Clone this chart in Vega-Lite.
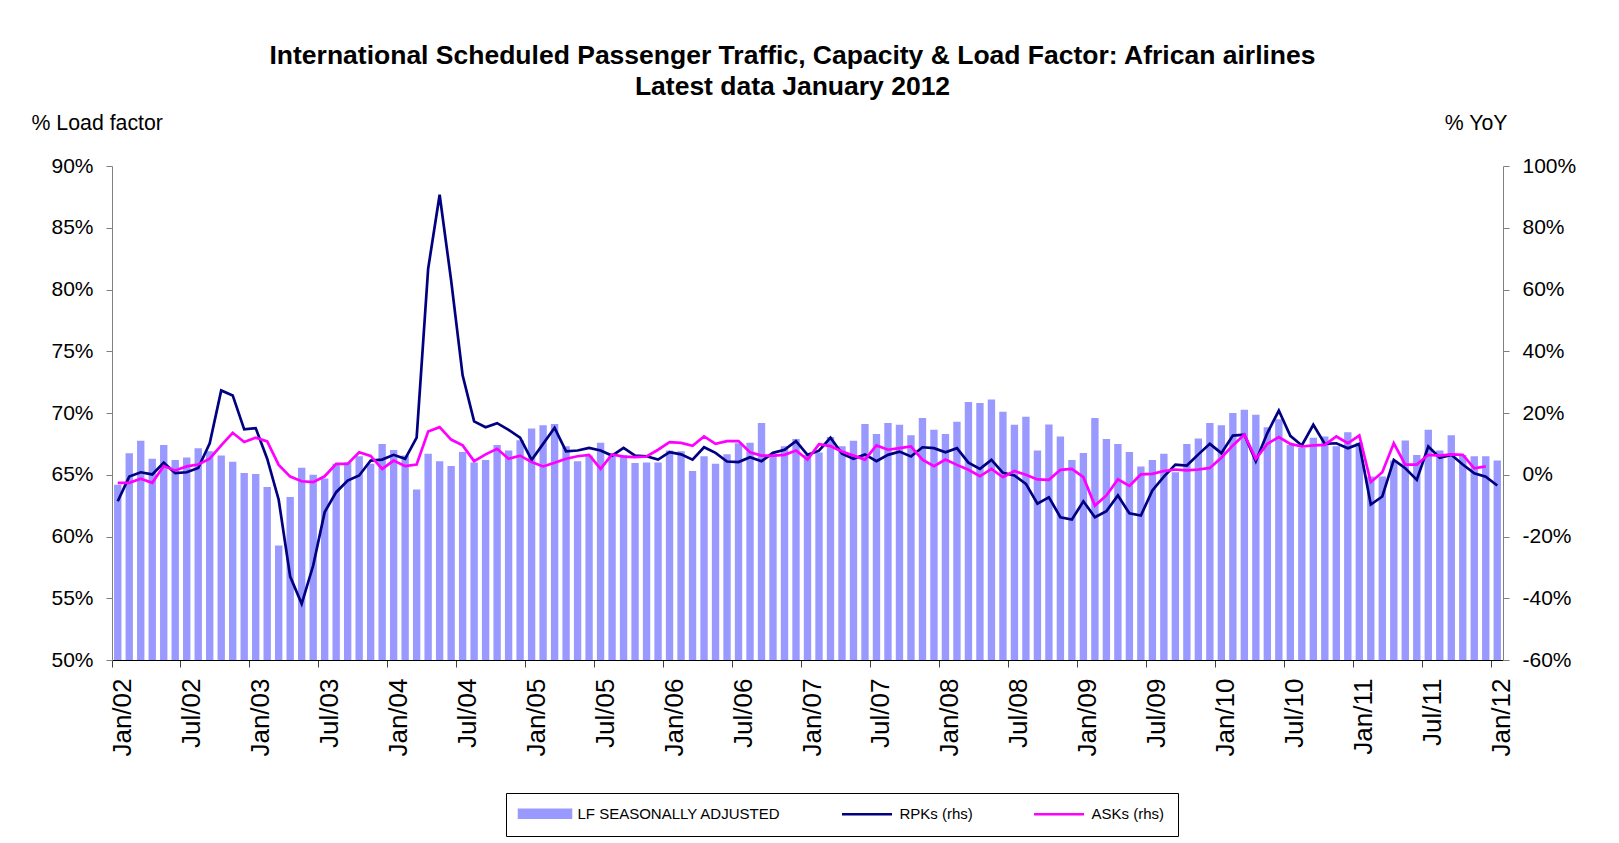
{
  "$schema": "https://vega.github.io/schema/vega-lite/v6.json",
  "width": 1391,
  "height": 494,
  "autosize": {"type": "none"},
  "padding": {"left": 112, "top": 166, "right": 116, "bottom": 183},
  "background": "white",
  "title": {
    "text": ["International Scheduled Passenger Traffic, Capacity & Load Factor: African airlines", "Latest data January 2012"],
    "anchor": "middle", "frame": "group", "dx": -15, "offset": 12,
    "font": "Liberation Sans", "fontSize": 26.5, "fontWeight": "bold", "lineHeight": 31, "color": "black"
  },
  "config": {
    "view": {"stroke": null},
    "axis": {"grid": false, "labelFont": "Liberation Sans", "titleFont": "Liberation Sans", "labelColor": "black", "titleColor": "black", "titleFontWeight": "normal"}
  },
  "data": {"values": [
    {"m":"2002-01","lf":64.2,"rpk":-8.6,"ask":-2.6},
    {"m":"2002-02","lf":66.75,"rpk":-0.6,"ask":-2.6},
    {"m":"2002-03","lf":67.75,"rpk":0.8,"ask":-1.3},
    {"m":"2002-04","lf":66.3,"rpk":0.1,"ask":-2.6},
    {"m":"2002-05","lf":67.4,"rpk":3.9,"ask":2.8},
    {"m":"2002-06","lf":66.2,"rpk":0.5,"ask":1.4},
    {"m":"2002-07","lf":66.4,"rpk":0.8,"ask":2.7},
    {"m":"2002-08","lf":67.15,"rpk":2.2,"ask":3.3},
    {"m":"2002-09","lf":66.9,"rpk":10.2,"ask":5.2},
    {"m":"2002-10","lf":66.55,"rpk":27.3,"ask":9.5},
    {"m":"2002-11","lf":66.05,"rpk":25.7,"ask":13.6},
    {"m":"2002-12","lf":65.15,"rpk":14.7,"ask":10.6},
    {"m":"2003-01","lf":65.07,"rpk":15.1,"ask":12.0},
    {"m":"2003-02","lf":64.0,"rpk":5.2,"ask":10.8},
    {"m":"2003-03","lf":59.27,"rpk":-8.1,"ask":3.2},
    {"m":"2003-04","lf":63.2,"rpk":-33.0,"ask":-0.6},
    {"m":"2003-05","lf":65.56,"rpk":-41.8,"ask":-2.1},
    {"m":"2003-06","lf":65.0,"rpk":-29.4,"ask":-2.4},
    {"m":"2003-07","lf":64.7,"rpk":-12.1,"ask":-0.5},
    {"m":"2003-08","lf":65.9,"rpk":-5.65,"ask":3.5},
    {"m":"2003-09","lf":66.0,"rpk":-1.9,"ask":3.5},
    {"m":"2003-10","lf":66.5,"rpk":-0.25,"ask":7.3},
    {"m":"2003-11","lf":65.9,"rpk":4.6,"ask":6.1},
    {"m":"2003-12","lf":67.5,"rpk":4.9,"ask":1.9},
    {"m":"2004-01","lf":67.0,"rpk":6.45,"ask":4.6},
    {"m":"2004-02","lf":66.55,"rpk":5.15,"ask":2.8},
    {"m":"2004-03","lf":63.8,"rpk":12.0,"ask":3.3},
    {"m":"2004-04","lf":66.7,"rpk":66.7,"ask":14.0},
    {"m":"2004-05","lf":66.1,"rpk":90.7,"ask":15.4},
    {"m":"2004-06","lf":65.7,"rpk":62.95,"ask":11.4},
    {"m":"2004-07","lf":66.85,"rpk":32.2,"ask":9.5},
    {"m":"2004-08","lf":66.0,"rpk":17.3,"ask":4.4},
    {"m":"2004-09","lf":66.2,"rpk":15.4,"ask":6.6},
    {"m":"2004-10","lf":67.4,"rpk":16.7,"ask":8.4},
    {"m":"2004-11","lf":66.96,"rpk":14.55,"ask":5.2},
    {"m":"2004-12","lf":67.8,"rpk":12.0,"ask":6.2},
    {"m":"2005-01","lf":68.75,"rpk":4.8,"ask":4.1},
    {"m":"2005-02","lf":69.0,"rpk":10.0,"ask":2.7},
    {"m":"2005-03","lf":69.1,"rpk":15.2,"ask":3.9},
    {"m":"2005-04","lf":67.3,"rpk":7.6,"ask":5.2},
    {"m":"2005-05","lf":66.1,"rpk":7.85,"ask":6.0},
    {"m":"2005-06","lf":66.56,"rpk":8.7,"ask":6.45},
    {"m":"2005-07","lf":67.6,"rpk":7.85,"ask":1.9},
    {"m":"2005-08","lf":66.6,"rpk":6.2,"ask":6.6},
    {"m":"2005-09","lf":66.6,"rpk":8.7,"ask":5.9},
    {"m":"2005-10","lf":65.96,"rpk":6.2,"ask":5.7},
    {"m":"2005-11","lf":66.0,"rpk":6.0,"ask":5.9},
    {"m":"2005-12","lf":66.0,"rpk":4.9,"ask":8.1},
    {"m":"2006-01","lf":66.96,"rpk":7.3,"ask":10.55},
    {"m":"2006-02","lf":66.9,"rpk":6.6,"ask":10.3},
    {"m":"2006-03","lf":65.3,"rpk":4.9,"ask":9.4},
    {"m":"2006-04","lf":66.5,"rpk":8.9,"ask":12.4},
    {"m":"2006-05","lf":65.9,"rpk":7.1,"ask":10.0},
    {"m":"2006-06","lf":66.67,"rpk":4.3,"ask":10.9},
    {"m":"2006-07","lf":67.56,"rpk":4.1,"ask":10.9},
    {"m":"2006-08","lf":67.6,"rpk":5.7,"ask":7.3},
    {"m":"2006-09","lf":69.2,"rpk":4.4,"ask":6.2},
    {"m":"2006-10","lf":66.6,"rpk":7.1,"ask":6.2},
    {"m":"2006-11","lf":67.3,"rpk":8.1,"ask":6.45},
    {"m":"2006-12","lf":67.9,"rpk":10.9,"ask":7.85},
    {"m":"2007-01","lf":66.6,"rpk":6.45,"ask":4.9},
    {"m":"2007-02","lf":66.8,"rpk":7.8,"ask":9.9},
    {"m":"2007-03","lf":68.05,"rpk":12.0,"ask":9.26},
    {"m":"2007-04","lf":67.3,"rpk":6.8,"ask":7.5},
    {"m":"2007-05","lf":67.75,"rpk":5.15,"ask":6.2},
    {"m":"2007-06","lf":69.1,"rpk":6.6,"ask":4.9},
    {"m":"2007-07","lf":68.3,"rpk":4.4,"ask":9.5},
    {"m":"2007-08","lf":69.2,"rpk":6.45,"ask":8.1},
    {"m":"2007-09","lf":69.05,"rpk":7.5,"ask":8.6},
    {"m":"2007-10","lf":68.2,"rpk":5.9,"ask":9.15},
    {"m":"2007-11","lf":69.6,"rpk":8.9,"ask":4.9},
    {"m":"2007-12","lf":68.65,"rpk":8.6,"ask":2.8},
    {"m":"2008-01","lf":68.3,"rpk":7.3,"ask":4.9},
    {"m":"2008-02","lf":69.3,"rpk":8.6,"ask":3.2},
    {"m":"2008-03","lf":70.9,"rpk":3.9,"ask":1.6},
    {"m":"2008-04","lf":70.8,"rpk":1.9,"ask":-0.5},
    {"m":"2008-05","lf":71.1,"rpk":4.8,"ask":1.9},
    {"m":"2008-06","lf":70.1,"rpk":0.6,"ask":-0.8},
    {"m":"2008-07","lf":69.05,"rpk":-0.25,"ask":1.2},
    {"m":"2008-08","lf":69.7,"rpk":-2.95,"ask":0.0},
    {"m":"2008-09","lf":66.96,"rpk":-9.4,"ask":-1.5},
    {"m":"2008-10","lf":69.07,"rpk":-7.3,"ask":-1.65},
    {"m":"2008-11","lf":68.1,"rpk":-13.75,"ask":1.6},
    {"m":"2008-12","lf":66.2,"rpk":-14.5,"ask":1.9},
    {"m":"2009-01","lf":66.77,"rpk":-8.6,"ask":-0.8},
    {"m":"2009-02","lf":69.6,"rpk":-13.75,"ask":-10.0},
    {"m":"2009-03","lf":67.9,"rpk":-11.8,"ask":-6.7},
    {"m":"2009-04","lf":67.5,"rpk":-6.7,"ask":-1.5},
    {"m":"2009-05","lf":66.85,"rpk":-12.5,"ask":-3.6},
    {"m":"2009-06","lf":65.67,"rpk":-13.2,"ask":0.1},
    {"m":"2009-07","lf":66.2,"rpk":-5.1,"ask":0.3},
    {"m":"2009-08","lf":66.7,"rpk":-0.6,"ask":1.2},
    {"m":"2009-09","lf":65.2,"rpk":3.3,"ask":1.7},
    {"m":"2009-10","lf":67.5,"rpk":3.0,"ask":1.4},
    {"m":"2009-11","lf":67.94,"rpk":6.6,"ask":1.7},
    {"m":"2009-12","lf":69.2,"rpk":10.0,"ask":2.2},
    {"m":"2010-01","lf":69.0,"rpk":7.0,"ask":5.5},
    {"m":"2010-02","lf":70.0,"rpk":12.7,"ask":9.5},
    {"m":"2010-03","lf":70.26,"rpk":13.0,"ask":13.0},
    {"m":"2010-04","lf":69.85,"rpk":4.4,"ask":5.15},
    {"m":"2010-05","lf":68.85,"rpk":13.5,"ask":10.0},
    {"m":"2010-06","lf":69.5,"rpk":20.8,"ask":12.2},
    {"m":"2010-07","lf":67.4,"rpk":12.6,"ask":10.0},
    {"m":"2010-08","lf":67.2,"rpk":9.5,"ask":9.15},
    {"m":"2010-09","lf":68.0,"rpk":16.2,"ask":9.5},
    {"m":"2010-10","lf":68.1,"rpk":10.0,"ask":9.7},
    {"m":"2010-11","lf":67.3,"rpk":10.2,"ask":12.4},
    {"m":"2010-12","lf":68.45,"rpk":8.6,"ask":10.2},
    {"m":"2011-01","lf":67.6,"rpk":10.0,"ask":12.7},
    {"m":"2011-02","lf":64.86,"rpk":-9.65,"ask":-2.4},
    {"m":"2011-03","lf":64.86,"rpk":-7.05,"ask":0.8},
    {"m":"2011-04","lf":66.15,"rpk":4.8,"ask":10.2},
    {"m":"2011-05","lf":67.77,"rpk":2.1,"ask":3.3},
    {"m":"2011-06","lf":66.6,"rpk":-1.65,"ask":3.3},
    {"m":"2011-07","lf":68.64,"rpk":9.15,"ask":6.45},
    {"m":"2011-08","lf":66.96,"rpk":5.5,"ask":6.2},
    {"m":"2011-09","lf":68.2,"rpk":6.45,"ask":6.6},
    {"m":"2011-10","lf":66.6,"rpk":3.3,"ask":6.45},
    {"m":"2011-11","lf":66.5,"rpk":0.5,"ask":2.1},
    {"m":"2011-12","lf":66.5,"rpk":-0.6,"ask":2.7},
    {"m":"2012-01","lf":66.15,"rpk":-3.5,"ask":null}
  ]},
  "encoding": {
    "x": {
      "field": "m", "type": "ordinal",
      "scale": {"type": "band", "paddingInner": 0.36, "paddingOuter": 0.18},
      "axis": {
        "title": null,
        "values": ["2002-01","2002-07","2003-01","2003-07","2004-01","2004-07","2005-01","2005-07","2006-01","2006-07","2007-01","2007-07","2008-01","2008-07","2009-01","2009-07","2010-01","2010-07","2011-01","2011-07","2012-01"],
        "labelExpr": "(substring(datum.value,5,7)=='01'?'Jan/':'Jul/')+substring(datum.value,2,4)",
        "bandPosition": -0.28,
        "labelAngle": -90, "labelAlign": "right", "labelBaseline": "middle",
        "labelFontSize": 26, "labelPadding": 11, "labelOffset": 5,
        "tickSize": 7, "tickColor": "#404040", "domainColor": "black", "domainWidth": 1.2
      }
    }
  },
  "layer": [
    {
      "mark": {"type": "bar", "color": "#9999FF"},
      "encoding": {
        "y": {
          "field": "lf", "type": "quantitative",
          "scale": {"domain": [50, 90], "zero": false, "nice": false},
          "axis": {
            "orient": "left", "values": [50,55,60,65,70,75,80,85,90],
            "labelExpr": "datum.value + '%'", "labelFontSize": 21, "labelPadding": 13,
            "tickSize": 6, "tickColor": "#808080", "domainColor": "#808080",
            "title": "% Load factor", "titleAngle": 0, "titleX": -81, "titleY": -43,
            "titleAlign": "left", "titleBaseline": "middle", "titleFontSize": 21.3
          }
        },
        "y2": {"datum": 50},
        "color": {
          "datum": "LF SEASONALLY ADJUSTED",
          "scale": {"domain": ["LF SEASONALLY ADJUSTED", "RPKs (rhs)", "ASKs (rhs)"], "range": ["#9999FF", "#000080", "#FF00FF"]},
          "legend": {
            "orient": "none", "legendX": 394, "legendY": 627, "direction": "horizontal", "title": null,
            "labelFont": "Liberation Sans", "labelFontSize": 15, "labelColor": "black", "labelLimit": 500,
            "strokeColor": "black", "padding": 13, "columnPadding": 56,
            "symbolSize": 100, "symbolOffset": 18.5, "labelOffset": 25,
            "encode": {
              "symbols": {
                "update": {
                  "shape": {"signal": "datum.value === 'LF SEASONALLY ADJUSTED' ? 'M-5.2,-0.8H5.2V0.8H-5.2Z' : 'M-5,0H5'"},
                  "fill": {"signal": "datum.value === 'LF SEASONALLY ADJUSTED' ? '#9999FF' : 'transparent'"},
                  "stroke": {"signal": "datum.value === 'LF SEASONALLY ADJUSTED' ? 'transparent' : (datum.value === 'RPKs (rhs)' ? '#000080' : '#FF00FF')"},
                  "strokeWidth": {"value": 2.5},
                  "opacity": {"value": 1}
                }
              }
            }
          }
        }
      }
    },
    {
      "layer": [
        {
          "mark": {"type": "line", "strokeWidth": 2.7},
          "encoding": {
            "y": {
              "field": "rpk", "type": "quantitative",
              "scale": {"domain": [-60, 100], "zero": false, "nice": false},
              "axis": {
                "orient": "right", "values": [-60,-40,-20,0,20,40,60,80,100],
                "labelExpr": "datum.value + '%'", "labelFontSize": 21, "labelPadding": 13,
                "tickSize": 6, "tickColor": "#808080", "domainColor": "#808080",
                "title": "% YoY", "titleAngle": 0, "titleX": 4, "titleY": -43,
                "titleAlign": "right", "titleBaseline": "middle", "titleFontSize": 21.3
              }
            },
            "color": {"datum": "RPKs (rhs)"}
          }
        },
        {
          "mark": {"type": "line", "strokeWidth": 2.7},
          "encoding": {
            "y": {
              "field": "ask", "type": "quantitative",
              "scale": {"domain": [-60, 100], "zero": false, "nice": false},
              "axis": {
                "orient": "right", "values": [-60,-40,-20,0,20,40,60,80,100],
                "labelExpr": "datum.value + '%'", "labelFontSize": 21, "labelPadding": 13,
                "tickSize": 6, "tickColor": "#808080", "domainColor": "#808080",
                "title": "% YoY", "titleAngle": 0, "titleX": 4, "titleY": -43,
                "titleAlign": "right", "titleBaseline": "middle", "titleFontSize": 21.3
              }
            },
            "color": {"datum": "ASKs (rhs)"}
          }
        }
      ]
    }
  ],
  "resolve": {"scale": {"y": "independent"}}
}
